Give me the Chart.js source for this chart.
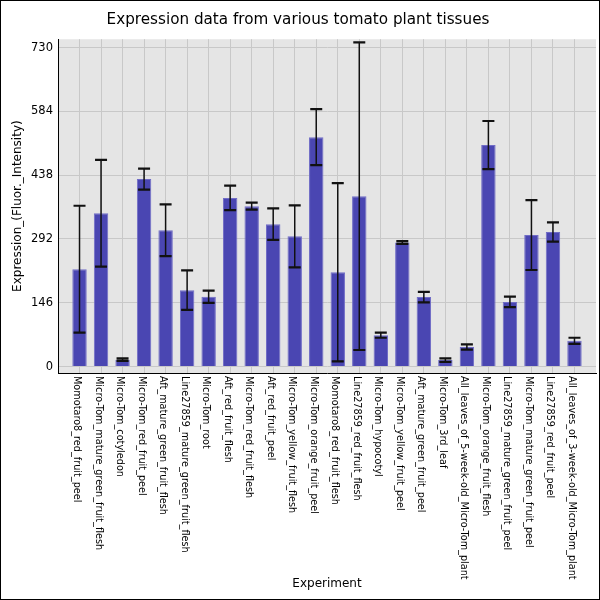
<!DOCTYPE html>
<html>
<head>
<meta charset="utf-8">
<script src="https://cdn.jsdelivr.net/npm/chart.js@4.4.1/dist/chart.umd.min.js"></script>
<style>
  html, body { margin: 0; padding: 0; background: #fff; }
  #wrap { width: 600px; height: 600px; }
</style>
</head>
<body>
<div id="wrap"><canvas id="chart"></canvas></div>
<script>
// tissue names, in plotted order
const experiments = [
  'Momotaro8_red_fruit_peel',
  'Micro-Tom_mature_green_fruit_flesh',
  'Micro-Tom_cotyledon',
  'Micro-Tom_red_fruit_peel',
  'Aft_mature_green_fruit_flesh',
  'Line27859_mature_green_fruit_flesh',
  'Micro-Tom_root',
  'Aft_red_fruit_flesh',
  'Micro-Tom_red_fruit_flesh',
  'Aft_red_fruit_peel',
  'Micro-Tom_yellow_fruit_flesh',
  'Micro-Tom_orange_fruit_peel',
  'Momotaro8_red_fruit_flesh',
  'Line27859_red_fruit_flesh',
  'Micro-Tom_hypocotyl',
  'Micro-Tom_yellow_fruit_peel',
  'Aft_mature_green_fruit_peel',
  'Micro-Tom_3rd_leaf',
  'All_leaves_of_5-week-old_Micro-Tom_plant',
  'Micro-Tom_orange_fruit_flesh',
  'Line27859_mature_green_fruit_peel',
  'Micro-Tom_mature_green_fruit_peel',
  'Line27859_red_fruit_peel',
  'All_leaves_of_3-week-old_Micro-Tom_plant'
];

const expression = [223, 351, 16, 429, 312, 175, 160, 386, 367, 326, 298, 525,
                     216, 390, 72, 284, 159, 15, 45, 507, 148, 301, 308, 59];

const stdErr = [145, 122, 3, 24, 59, 45, 14, 28, 8, 36, 71, 64,
                204, 352, 6, 3, 12, 4, 6, 55, 12, 80, 22, 7];

const yTicks = [0, 146, 292, 438, 584, 730];

const FONT = 'DejaVu Sans, Verdana, sans-serif';

// grey panel + frame around the whole picture
const backdrop = {
  id: 'backdrop',
  beforeDraw(chart) {
    const { ctx, chartArea: a } = chart;
    ctx.save();
    ctx.fillStyle = '#fff';
    ctx.fillRect(0, 0, chart.width, chart.height);
    ctx.fillStyle = '#e5e5e5';
    ctx.fillRect(a.left, a.top, a.right - a.left, a.bottom - a.top);
    ctx.strokeStyle = '#000';
    ctx.lineWidth = 1;
    ctx.strokeRect(0.5, 0.5, chart.width - 1, chart.height - 1);
    ctx.restore();
  }
};

// error bars and the vertical category labels
const extras = {
  id: 'extras',
  afterDatasetsDraw(chart) {
    const { ctx } = chart;
    const x = chart.scales.x, y = chart.scales.y;
    ctx.save();
    ctx.strokeStyle = '#111';
    expression.forEach((v, i) => {
      const px = x.getPixelForValue(i);
      const hi = y.getPixelForValue(v + stdErr[i]);
      const lo = y.getPixelForValue(v - stdErr[i]);
      ctx.lineWidth = 1.5;
      ctx.beginPath();
      ctx.moveTo(px, hi);
      ctx.lineTo(px, lo);
      ctx.stroke();
      ctx.lineWidth = 2.2;
      ctx.beginPath();
      ctx.moveTo(px - 6, hi); ctx.lineTo(px + 6, hi);
      ctx.moveTo(px - 6, lo); ctx.lineTo(px + 6, lo);
      ctx.stroke();
    });
    ctx.restore();
  },
  afterDraw(chart) {
    const { ctx } = chart;
    const x = chart.scales.x;
    ctx.save();
    ctx.fillStyle = '#000';
    ctx.font = '9.7px ' + FONT;
    ctx.textAlign = 'left';
    ctx.textBaseline = 'middle';
    experiments.forEach((name, i) => {
      ctx.save();
      ctx.translate(x.getPixelForValue(i) - 3, chart.chartArea.bottom + 3);
      ctx.rotate(Math.PI / 2);
      ctx.fillText(name, 0, 0);
      ctx.restore();
    });
    ctx.restore();
  }
};

new Chart(document.getElementById('chart'), {
  type: 'bar',
  data: {
    datasets: [{
      data: expression.map((v, i) => ({ x: i, y: v })),
      backgroundColor: 'rgb(74,70,178)',
      borderColor: 'rgb(112,108,198)',
      borderWidth: 1,
      barPercentage: 0.67,
      categoryPercentage: 1
    }]
  },
  options: {
    responsive: true,
    maintainAspectRatio: false,
    animation: false,
    devicePixelRatio: 1,
    layout: { padding: { top: 0, right: 4, bottom: 0, left: 0 } },
    plugins: {
      legend: { display: false },
      tooltip: { enabled: false },
      title: {
        display: true,
        text: 'Expression data from various tomato plant tissues',
        color: '#000',
        font: { family: FONT, size: 15.2, weight: 'normal' },
        padding: { top: 11, bottom: 10 }
      }
    },
    scales: {
      x: {
        type: 'linear',
        offset: false,
        min: -1,
        max: 24,
        afterBuildTicks: s => { s.ticks = experiments.map((_, i) => ({ value: i })); },
        afterFit: s => { s.height = 227; },
        ticks: { display: false },
        grid: { color: '#c8c8c8', lineWidth: 1, drawTicks: false, offset: false },
        border: { color: '#000', width: 1 },
        title: {
          display: true,
          text: 'Experiment',
          color: '#000',
          font: { family: FONT, size: 12 },
          padding: { top: 0, bottom: 9 }
        }
      },
      y: {
        min: -14.6,
        max: 749,
        afterBuildTicks: s => { s.ticks = yTicks.map(v => ({ value: v })); },
        afterFit: s => { s.width = 58; },
        ticks: {
          color: '#000',
          font: { family: FONT, size: 11.5 },
          padding: 5
        },
        grid: { color: '#c8c8c8', lineWidth: 1, drawTicks: false },
        border: { color: '#000', width: 1 },
        title: {
          display: true,
          text: 'Expression_(Fluor._Intensity)',
          color: '#000',
          font: { family: FONT, size: 12 },
          padding: { top: 11, bottom: 0 }
        }
      }
    }
  },
  plugins: [backdrop, extras]
});
</script>
</body>
</html>
